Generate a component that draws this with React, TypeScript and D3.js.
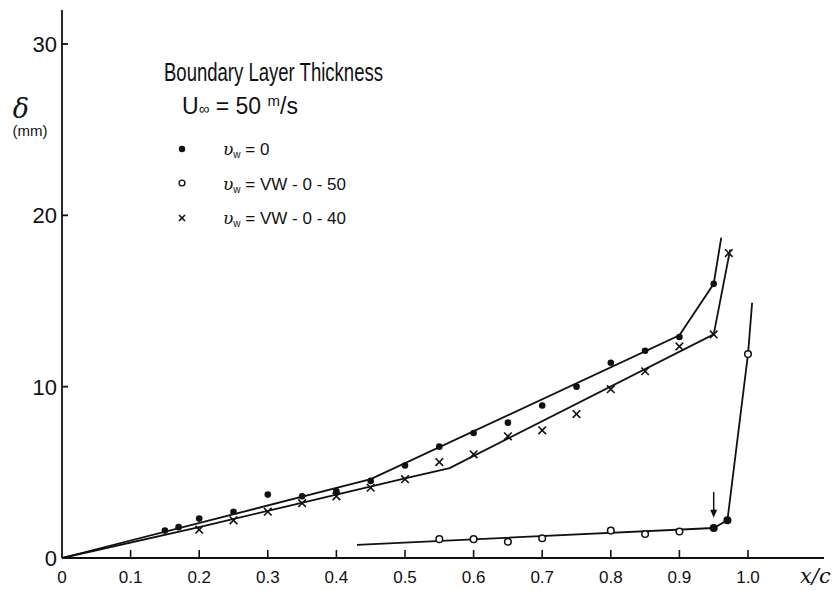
import React from "react";
import * as d3 from "d3";

// ---- data ----
const xTicks = [0, 0.1, 0.2, 0.3, 0.4, 0.5, 0.6, 0.7, 0.8, 0.9, 1.0];
const xTickLabels = ["0", "0.1", "0.2", "0.3", "0.4", "0.5", "0.6", "0.7", "0.8", "0.9", "1.0"];
const yTicks = [0, 10, 20, 30];
const yTickLabels = ["0", "10", "20", "30"];

// vw = 0 (filled dots)
const dotX = [0.15, 0.17, 0.2, 0.25, 0.3, 0.35, 0.4, 0.45, 0.5, 0.55, 0.6, 0.65, 0.7, 0.75, 0.8, 0.85, 0.9, 0.95];
const dotY = [1.6, 1.8, 2.3, 2.7, 3.7, 3.6, 3.9, 4.5, 5.4, 6.5, 7.3, 7.9, 8.9, 10.0, 11.4, 12.1, 12.9, 16.0];

// vw = VW-0-50 (open circles; the two transition points are drawn filled)
const openX = [0.55, 0.6, 0.65, 0.7, 0.8, 0.85, 0.9, 0.95, 0.97, 1.0];
const openY = [1.1, 1.1, 0.95, 1.15, 1.6, 1.4, 1.55, 1.75, 2.2, 11.9];
const openFilled = [false, false, false, false, false, false, false, true, true, false];

// vw = VW-0-40 (crosses)
const crossX = [0.2, 0.25, 0.3, 0.35, 0.4, 0.45, 0.5, 0.55, 0.6, 0.65, 0.7, 0.75, 0.8, 0.85, 0.9, 0.95, 0.972];
const crossY = [1.65, 2.2, 2.7, 3.2, 3.6, 4.1, 4.6, 5.6, 6.05, 7.1, 7.45, 8.4, 9.85, 10.9, 12.35, 13.05, 17.8];

// faired curves
const curve0X = [0, 0.45, 0.9, 0.95, 0.961];
const curve0Y = [0, 4.6, 13.0, 16.0, 18.7];
const curve50X = [0.43, 0.95, 0.97, 1.0, 1.006];
const curve50Y = [0.77, 1.75, 2.2, 11.9, 14.9];
const curve40X = [0, 0.2, 0.5, 0.565, 0.95, 0.974];
const curve40Y = [0, 1.8, 4.65, 5.25, 13.05, 18.0];

// transition arrow: x, from y, to y
const arrowX = [0.95];
const arrowFromY = [3.85];
const arrowToY = [2.35];

// legend
const legendLabels = ["= 0", "= VW - 0 - 50", "= VW - 0 - 40"];

const W = 834;
const H = 590;

export default function App() {
  const x = d3.scaleLinear().domain([0, 1]).range([62, 748]);
  const y = d3.scaleLinear().domain([0, 30]).range([558, 44]);
  const line = d3
    .line<[number, number]>()
    .x((d) => x(d[0]))
    .y((d) => y(d[1]));
  const zip = (a: number[], b: number[]) => a.map((v, i) => [v, b[i]] as [number, number]);

  const font = "'Liberation Sans', Arial, sans-serif";
  const stroke = "#111";

  const cross = (cx: number, cy: number, s: number, key: string) => (
    <g key={key} stroke={stroke} strokeWidth={1.6}>
      <line x1={cx - s} y1={cy - s} x2={cx + s} y2={cy + s} />
      <line x1={cx - s} y1={cy + s} x2={cx + s} y2={cy - s} />
    </g>
  );

  return (
    <svg
      width={W}
      height={H}
      style={{ position: "absolute", left: 0, top: 0, display: "block", background: "#fff" }}
      fontFamily={font}
    >
      <rect width={W} height={H} fill="#fff" />
      {/* axes */}
      <line x1={62} y1={10} x2={62} y2={558} stroke={stroke} strokeWidth={1.8} />
      <line x1={62} y1={558} x2={824} y2={558} stroke={stroke} strokeWidth={1.8} />
      {yTicks.map((t, i) => (
        <g key={"yt" + t}>
          {t > 0 && <line x1={62} x2={68} y1={y(t)} y2={y(t)} stroke={stroke} strokeWidth={1.8} />}
          <text x={57} y={y(t) + 8} textAnchor="end" fontSize={22} fill={stroke}>
            {yTickLabels[i]}
          </text>
        </g>
      ))}
      {xTicks.map((t, i) => (
        <g key={"xt" + t}>
          {t > 0 && <line x1={x(t)} x2={x(t)} y1={558} y2={550} stroke={stroke} strokeWidth={1.6} />}
          <text x={x(t)} y={583} textAnchor="middle" fontSize={17} fill={stroke}>
            {xTickLabels[i]}
          </text>
        </g>
      ))}
      <text x={800} y={583} fontSize={21} fontStyle="italic" fontFamily="'DejaVu Serif', serif" fill={stroke}>
        x/c
      </text>
      {/* y label */}
      <text x={21} y={118} textAnchor="middle" fontSize={27} fontStyle="italic" fontFamily="'DejaVu Serif', serif" fill={stroke}>
        δ
      </text>
      <text x={30} y={136} textAnchor="middle" fontSize={15} fill={stroke}>
        (mm)
      </text>

      {/* title & legend */}
      <text x={164} y={81} fontSize={25} textLength={219} lengthAdjust="spacingAndGlyphs" fill={stroke}>
        Boundary Layer Thickness
      </text>
      <text x={182} y={114} fontSize={23} fill={stroke}>
        <tspan>U</tspan>
        <tspan fontSize={15}>∞</tspan>
        <tspan> = 50 </tspan>
        <tspan fontSize={15} dy={-8}>m</tspan>
        <tspan dy={8}>/s</tspan>
      </text>
      <circle cx={182} cy={149} r={3.2} fill={stroke} />
      <circle cx={182} cy={183} r={2.9} fill="#fff" stroke={stroke} strokeWidth={1.4} />
      {cross(182, 218, 3, "lgx")}
      {legendLabels.map((s, i) => (
        <text key={"lg" + i} x={223} y={155 + i * 34.5} fontSize={17} fill={stroke}>
          <tspan fontStyle="italic" fontFamily="'DejaVu Serif', serif">υ</tspan>
          <tspan fontSize={10} dy={3}>w</tspan>
          <tspan dy={-3}> {s}</tspan>
        </text>
      ))}

      {/* faired curves */}
      <path d={line(zip(curve0X, curve0Y)) || ""} fill="none" stroke={stroke} strokeWidth={1.8} />
      <path d={line(zip(curve40X, curve40Y)) || ""} fill="none" stroke={stroke} strokeWidth={1.8} />
      <path d={line(zip(curve50X, curve50Y)) || ""} fill="none" stroke={stroke} strokeWidth={1.8} />

      {/* markers */}
      {dotX.map((v, i) => (
        <circle key={"d" + i} cx={x(v)} cy={y(dotY[i])} r={3.3} fill={stroke} />
      ))}
      {openX.map((v, i) => (
        <circle
          key={"o" + i}
          cx={x(v)}
          cy={y(openY[i])}
          r={3.3}
          fill={openFilled[i] ? stroke : "#fff"}
          stroke={stroke}
          strokeWidth={1.5}
        />
      ))}
      {crossX.map((v, i) => cross(x(v), y(crossY[i]), 3.8, "c" + i))}

      {/* arrow */}
      {arrowX.map((v, i) => (
        <g key={"a" + i}>
          <line x1={x(v)} x2={x(v)} y1={y(arrowFromY[i])} y2={y(arrowToY[i]) - 4} stroke={stroke} strokeWidth={1.5} />
          <path
            d={`M${x(v) - 3.5},${y(arrowToY[i]) - 8} L${x(v) + 3.5},${y(arrowToY[i]) - 8} L${x(v)},${y(arrowToY[i])} Z`}
            fill={stroke}
          />
        </g>
      ))}
    </svg>
  );
}
